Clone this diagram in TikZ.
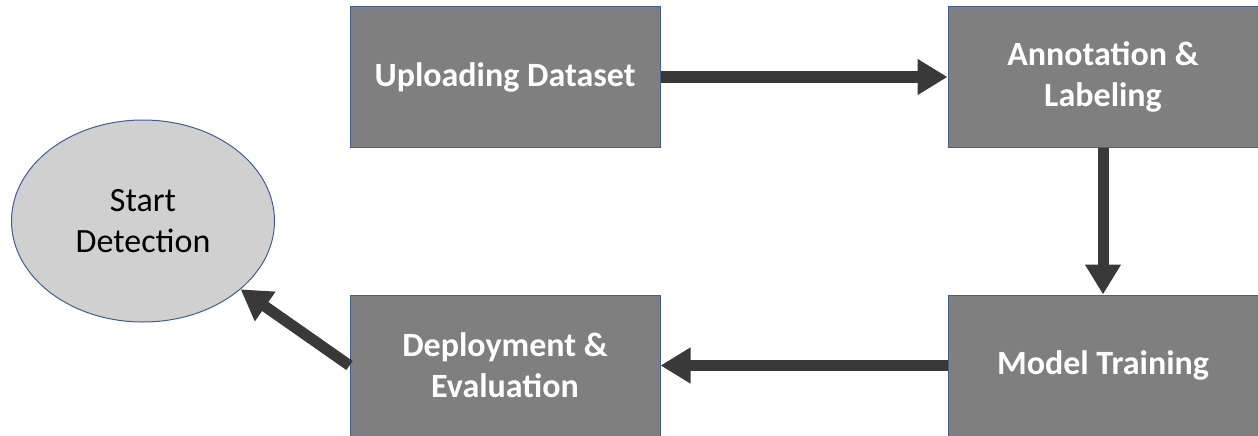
\documentclass[tikz,border=0pt]{standalone}
\usepackage{fontspec}
\setmainfont{Carlito}
\usetikzlibrary{arrows.meta,shapes.geometric}
\definecolor{boxfill}{HTML}{7F7F7F}
\definecolor{boxline}{HTML}{3E5F94}
\definecolor{ovalfill}{HTML}{D0D0D0}
\definecolor{arrowcol}{HTML}{3B3838}
\tikzset{
  stagebox/.style={rectangle, fill=boxfill, draw=boxline, line width=1pt,
    minimum width=310pt, minimum height=141pt, inner sep=0pt, align=center,
    text=white, font=\fontsize{34}{41}\selectfont\bfseries},
  startoval/.style={ellipse, fill=ovalfill, draw=boxline, line width=1pt,
    minimum width=263pt, minimum height=202pt, inner sep=0pt, align=center,
    text=black, font=\fontsize{34}{41}\selectfont},
  flow/.style={draw=arrowcol, line width=11pt,
    -{Triangle[width=34pt,length=30pt]}, shorten >=0pt}
}
\begin{document}
\begin{tikzpicture}[x=1pt,y=-1pt]
  \useasboundingbox (0,0) rectangle (1258,436);
  \node[stagebox] (upload) at (505,77) {Uploading Dataset};
  \node[stagebox] (annot) at (1103,77) {Annotation \&\\Labeling};
  \node[stagebox] (train) at (1103,365.5) {Model Training};
  \node[stagebox] (deploy) at (505,365.5) {Deployment \&\\Evaluation};
  \node[startoval] (start) at (143,221) {Start\\Detection};
  \draw[flow] (upload.east) -- (annot.west);
  \draw[flow] (annot.south) -- (train.north);
  \draw[flow] (train.west) -- (deploy.west -| deploy.east);
  \draw[flow] (deploy.west) -- (start);
\end{tikzpicture}
\end{document}
